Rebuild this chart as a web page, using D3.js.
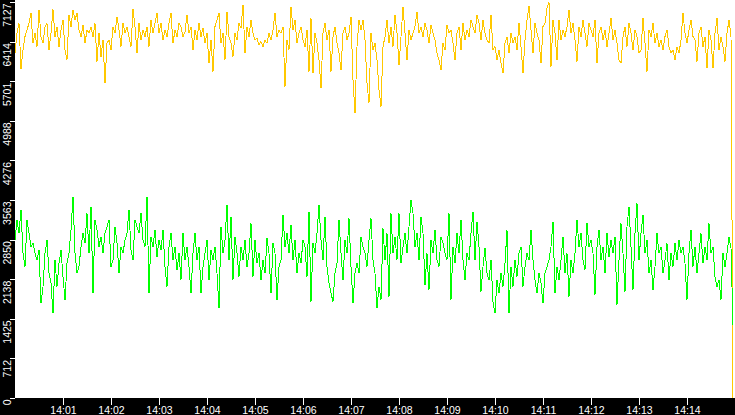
<!DOCTYPE html>
<html>
<head>
<meta charset="utf-8">
<script src="https://cdn.jsdelivr.net/npm/d3@7"></script>
<style>
  html, body { margin: 0; padding: 0; background: #000; overflow: hidden; }
  svg { display: block; }
  text { font-family: "Liberation Sans", Arial, sans-serif; font-size: 10.5px; fill: #fff; }
</style>
</head>
<body>
<svg id="chart" width="735" height="415"></svg>
<script>
// samples every 2.5 s from 14:00:00
const yellowSeries = [
  6204,6564,6744,5920,6264,6504,6624,6744,6924,6384,
  6564,6324,6984,6504,6384,6684,6744,6264,6564,6994,
  6504,6684,6324,6624,6804,6264,6084,6894,6684,6984,
  6804,6924,6624,6504,6714,6384,6624,6564,6684,6504,
  6744,6054,6564,6144,6444,5670,6384,6444,6264,6684,
  6564,6864,6624,6324,6744,6564,6684,6504,6324,6994,
  6684,6204,6744,6444,6624,6504,6684,6324,6804,6564,
  6744,6924,6564,6744,6444,6624,6504,6744,6924,6384,
  6624,6504,6744,6684,6504,6594,6894,6564,6684,6264,
  6624,6444,6744,6504,6654,6384,6564,6024,6444,5874,
  6684,6804,6924,6384,6564,6084,6954,6504,6384,6144,
  6564,6444,6744,6654,7074,6204,6684,6504,6804,6564,
  6444,6474,6354,6414,6324,6444,6384,6564,6444,6624,
  6924,6504,6624,6564,6684,5604,6444,6264,7044,6624,
  6804,6384,6564,6684,6444,6324,6624,5874,6834,5844,
  6564,6384,6084,5574,6564,6744,6444,6624,5874,6504,
  6684,6384,6204,5904,6564,6684,6444,6564,6864,5724,
  5124,6324,6804,6624,6804,6444,5664,5304,6564,6264,
  6384,6084,5544,5244,6324,6504,6804,6384,6684,6324,
  6894,6564,5994,6504,7044,6564,6084,6624,6444,6564,
  6684,6954,6564,6684,6504,6744,6624,6384,6714,6564,
  6444,6204,6084,5904,6384,6264,6714,6564,6624,6384,
  6084,6564,6684,6264,6744,6444,6624,6504,6804,6684,
  6564,6894,6744,6444,6804,6564,6444,6384,6894,6264,
  6324,6084,6264,6024,5844,6384,6504,6204,6564,6384,
  6504,6264,6744,6324,5844,6444,6804,7056,6624,6204,
  6744,6564,6444,6024,6684,6744,7014,7120,5964,6804,
  6564,6084,6804,6444,6624,6504,6684,6984,6564,6744,
  6444,6054,6684,6504,6804,6564,6324,6744,6624,6504,
  6804,6024,6564,6684,6444,6624,6324,6564,6834,6444,
  6624,6384,6084,6024,6504,6684,6324,6744,6564,6264,
  6624,6504,6204,6264,6834,6384,5874,6624,6504,6744,
  6384,6564,6324,6444,6264,6504,6624,6324,6204,6264,
  6084,6324,6204,6444,6924,6564,6384,6624,6804,6504,
  6444,6054,6564,6684,6324,6504,5934,6624,6444,5934,
  6564,6834,6264,6504,6324,6054,6564,6804,6504,0
];

const greenSeries = [
  2844,3204,2964,3384,2604,2364,3204,2964,2724,2784,
  2604,2484,2664,1704,2004,2604,2844,2244,2064,1524,
  2484,2004,2424,2664,2184,1764,2424,2604,3024,3624,
  2604,2244,2364,2724,2964,2784,3324,2604,3444,1884,
  3204,3024,2724,2904,2604,2964,3084,3204,2364,2484,
  3084,2784,2244,2724,2604,2844,2964,3384,2664,2484,
  3204,3084,2964,3324,2844,2724,3624,1884,2904,2724,
  3024,2544,2844,2664,3024,2364,2004,2724,2964,2484,
  2724,2304,2604,2124,2964,2484,2724,2364,1884,2604,
  2964,2484,2724,1884,2364,2604,2844,2124,2664,2484,
  2724,2244,1614,3084,2604,2844,3474,2484,3264,2124,
  2904,2604,2184,2724,2484,2844,2364,2604,3144,2184,
  2844,2424,2604,2124,2484,2244,2874,2604,1884,2784,
  2604,1764,2364,2484,3294,2724,2964,2604,3114,2484,
  2844,2244,2604,2424,2844,2724,2184,3354,1734,2784,
  2604,2964,3474,2844,2484,3264,2364,2064,1884,1734,
  2244,2424,3204,2604,2124,2844,2604,3234,2364,1704,
  2244,2424,2244,2904,2724,2604,2364,2844,3234,2484,
  2244,1614,2004,1764,3054,2484,2964,1824,3324,2604,
  2904,2484,3324,2424,2724,2964,2604,3084,3564,3324,
  2724,2964,2484,3264,2964,2034,2604,1944,2844,2604,
  3024,2484,2364,2904,2784,2604,2484,3324,1764,2724,
  2424,2964,2604,3204,2484,2124,2604,2484,2964,3354,
  2484,3174,2724,1914,2364,2694,2244,2124,2484,1734,
  1524,2124,1884,2244,2004,2424,3024,1524,2364,2004,
  2484,2184,2604,2724,2004,2364,2604,2484,3024,2484,
  2124,1884,2244,2064,1704,2244,2364,2484,2724,3174,
  1884,2364,2124,2484,2904,2244,2604,1824,2484,2244,
  2604,3204,2724,2964,2484,2304,3144,2724,2844,2604,
  1854,2724,3024,2484,2724,2244,2964,2544,2844,2604,
  2904,1674,2484,3144,2604,1914,3084,3444,2724,1944,
  2964,3504,2484,2964,3294,2604,2844,2244,2484,1944,
  2364,2964,2604,2724,2244,2484,2784,2124,2604,2364,
  2784,2484,2844,2604,2724,2424,1764,2604,3024,2364,
  2724,2244,2604,2964,2424,2724,2484,3144,2604,2724,
  2184,2004,2124,1764,2604,2364,2604,2904,2694,1314
];

const yTicks = [0, 712, 1425, 2138, 2850, 3563, 4276, 4988, 5701, 6414, 7127];
const xTickLabels = ['14:01','14:02','14:03','14:04','14:05','14:06','14:07',
                     '14:08','14:09','14:10','14:11','14:12','14:13','14:14'];
const startLabel = '14:00';
const endLabel = '14:15';
const stepMs = 2500;

const width = 735, height = 415;
const margin = { left: 15, bottom: 17, top: 2 };
const parseTime = d3.timeParse('%H:%M');
const t0 = parseTime(startLabel);

const x = d3.scaleTime()
  .domain([t0, parseTime(endLabel)])
  .range([margin.left, width]);
const y = d3.scaleLinear()
  .domain([0, 7127])
  .range([height - margin.bottom, margin.top]);

const svg = d3.select('#chart');

svg.append('rect').attr('width', width).attr('height', height).attr('fill', '#000');
svg.append('rect')
  .attr('x', margin.left).attr('y', 0)
  .attr('width', width - margin.left).attr('height', height - margin.bottom)
  .attr('fill', '#fff');

let line = d3.line()
  .x((d, i) => x(new Date(t0.getTime() + i * stepMs)))
  .y(d => y(d));

svg.append('path')
  .datum(yellowSeries)
  .attr('d', line)
  .attr('fill', 'none')
  .attr('stroke', '#ffc800')
  .attr('stroke-width', 1)
  .attr('shape-rendering', 'crispEdges');

svg.append('path')
  .datum(greenSeries)
  .attr('d', line)
  .attr('fill', 'none')
  .attr('stroke', '#00ff00')
  .attr('stroke-width', 1)
  .attr('shape-rendering', 'crispEdges');

// y axis, labels rotated and hanging below each tick
let yAxis = svg.append('g')
  .attr('transform', `translate(${margin.left},0)`)
  .call(d3.axisLeft(y).tickValues(yTicks).tickSize(5).tickFormat(d3.format('d')));
yAxis.select('.domain').remove();
yAxis.selectAll('line').attr('stroke', '#fff').attr('shape-rendering', 'crispEdges');
yAxis.selectAll('text')
  .attr('transform', 'rotate(-90)')
  .attr('text-anchor', 'end')
  .attr('x', -1)
  .attr('y', -4.5)
  .attr('dy', null)
  .attr('fill', '#fff');

// x axis
let xAxis = svg.append('g')
  .attr('transform', `translate(0,${height - margin.bottom})`)
  .call(d3.axisBottom(x)
    .tickValues(xTickLabels.map(parseTime))
    .tickSize(7)
    .tickPadding(2)
    .tickFormat(d3.timeFormat('%H:%M')));
xAxis.select('.domain').remove();
xAxis.selectAll('line').attr('stroke', '#fff').attr('shape-rendering', 'crispEdges');
xAxis.selectAll('text').attr('fill', '#fff');
</script>
</body>
</html>
